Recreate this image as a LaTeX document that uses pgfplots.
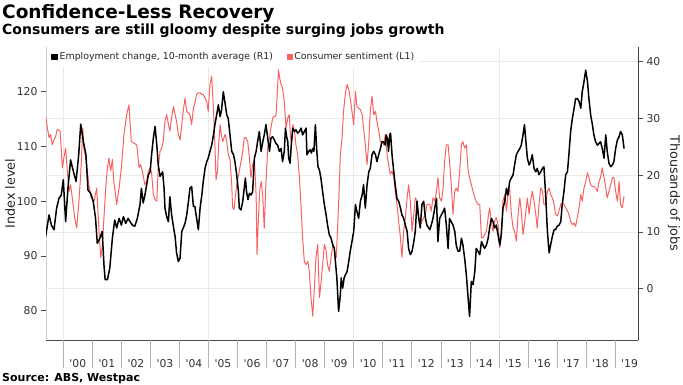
\documentclass[border=0pt]{standalone}
\usepackage{fontspec}
\setmainfont{DejaVu Sans}
\usepackage{pgfplots}
\usepackage{pgfplotstable}
\pgfplotsset{compat=1.18}
\definecolor{sent}{RGB}{248,98,98}
\definecolor{gridc}{RGB}{234,234,234}

\pgfplotstableread{
x y
1999.39 115.5
1999.45 113.4
1999.51 111.6
1999.56 112.2
1999.62 110.3
1999.68 111.2
1999.74 111.9
1999.79 113.1
1999.89 112.8
1999.97 106.1
2000.02 107.9
2000.08 109.7
2000.14 105.5
2000.20 101.8
2000.25 103.0
2000.31 100.6
2000.39 97.0
2000.46 95.1
2000.53 99.4
2000.60 104.9
2000.67 113.4
2000.71 109.7
2000.77 107.9
2000.83 105.5
2000.88 103.0
2000.96 100.6
2001.06 100.0
2001.15 102.4
2001.23 94.5
2001.29 89.7
2001.34 91.5
2001.40 97.0
2001.46 102.4
2001.52 106.1
2001.57 107.9
2001.63 105.5
2001.69 107.6
2001.74 103.6
2001.84 99.4
2001.92 102.4
2002.00 106.1
2002.09 112.2
2002.18 115.8
2002.26 117.6
2002.34 110.9
2002.43 110.6
2002.53 110.3
2002.61 106.1
2002.66 106.7
2002.72 105.5
2002.81 103.0
2002.87 103.6
2002.93 105.5
2002.99 106.1
2003.04 105.2
2003.10 101.2
2003.16 100.3
2003.22 100.0
2003.27 106.1
2003.33 109.1
2003.39 109.7
2003.44 110.9
2003.50 114.6
2003.56 115.8
2003.62 114.0
2003.67 112.8
2003.73 115.2
2003.79 117.3
2003.85 115.8
2003.90 114.6
2003.96 112.2
2004.02 111.2
2004.08 114.0
2004.13 116.4
2004.19 118.8
2004.25 116.4
2004.31 116.1
2004.36 115.8
2004.42 114.0
2004.48 117.0
2004.53 117.9
2004.59 119.5
2004.65 119.8
2004.71 119.8
2004.77 119.5
2004.82 119.5
2004.88 118.8
2004.94 118.2
2004.99 116.4
2005.05 121.3
2005.11 122.8
2005.17 117.0
2005.22 110.3
2005.26 103.9
2005.31 105.5
2005.35 110.3
2005.40 114.0
2005.44 112.2
2005.49 110.9
2005.57 112.2
2005.63 110.9
2005.68 108.5
2005.74 107.6
2005.80 103.0
2005.83 98.8
2005.88 98.5
2005.92 100.6
2005.97 103.0
2006.06 105.5
2006.12 107.3
2006.18 109.1
2006.23 111.6
2006.29 111.6
2006.35 110.9
2006.41 107.9
2006.46 104.3
2006.52 106.7
2006.58 107.6
2006.64 101.2
2006.67 90.3
2006.72 97.0
2006.77 102.4
2006.82 103.6
2006.87 100.6
2006.92 95.1
2006.98 103.6
2007.04 109.7
2007.10 111.6
2007.15 113.4
2007.21 115.2
2007.27 115.5
2007.32 115.5
2007.36 118.8
2007.41 124.0
2007.45 122.5
2007.50 121.3
2007.55 120.7
2007.61 118.2
2007.67 113.4
2007.73 115.2
2007.78 115.8
2007.82 112.2
2007.86 110.3
2007.91 114.0
2007.96 112.8
2008.01 110.3
2008.07 108.5
2008.13 104.3
2008.19 98.8
2008.24 93.3
2008.30 89.0
2008.36 88.4
2008.42 89.0
2008.47 87.2
2008.53 82.4
2008.59 79.0
2008.64 83.6
2008.70 89.7
2008.76 92.1
2008.82 82.4
2008.87 84.8
2008.93 88.4
2008.99 92.1
2009.05 90.9
2009.10 88.4
2009.16 87.2
2009.22 89.7
2009.28 92.1
2009.33 91.5
2009.40 89.7
2009.48 99.4
2009.54 108.5
2009.60 111.6
2009.65 116.4
2009.71 119.5
2009.77 121.3
2009.83 120.4
2009.88 118.8
2009.94 116.4
2010.00 114.0
2010.06 120.1
2010.11 117.3
2010.17 117.0
2010.23 116.7
2010.29 115.8
2010.34 113.4
2010.40 110.3
2010.46 106.7
2010.52 110.9
2010.57 116.4
2010.63 119.2
2010.69 115.8
2010.75 116.4
2010.80 114.6
2010.86 112.8
2010.92 110.9
2010.97 110.9
2011.03 110.3
2011.09 112.2
2011.15 108.5
2011.20 106.7
2011.26 104.9
2011.32 105.5
2011.38 104.3
2011.43 101.8
2011.49 99.4
2011.55 96.3
2011.61 93.3
2011.66 89.7
2011.72 94.5
2011.78 97.0
2011.84 100.6
2011.89 103.0
2011.95 100.0
2012.01 94.5
2012.07 97.6
2012.12 100.6
2012.18 100.0
2012.24 97.0
2012.29 95.7
2012.35 96.3
2012.41 97.0
2012.47 97.6
2012.52 99.4
2012.62 99.4
2012.67 98.2
2012.73 100.6
2012.79 100.0
2012.85 101.8
2012.90 104.3
2012.96 100.6
2013.02 100.0
2013.08 102.4
2013.13 107.3
2013.19 110.3
2013.25 110.3
2013.30 107.3
2013.36 103.0
2013.42 97.6
2013.48 101.8
2013.53 102.4
2013.59 101.8
2013.65 105.5
2013.71 110.3
2013.76 110.9
2013.82 109.7
2013.88 110.3
2013.94 105.5
2013.99 104.3
2014.05 103.0
2014.11 101.8
2014.17 100.6
2014.22 100.0
2014.28 99.4
2014.34 99.4
2014.40 93.3
2014.45 93.3
2014.51 93.9
2014.57 94.5
2014.63 97.0
2014.68 98.8
2014.74 96.3
2014.80 94.5
2014.85 96.3
2014.91 97.0
2014.97 95.7
2015.03 91.5
2015.08 93.3
2015.14 100.0
2015.20 101.2
2015.26 98.2
2015.31 101.2
2015.37 102.4
2015.43 97.6
2015.49 95.1
2015.54 94.5
2015.60 92.7
2015.66 97.6
2015.72 100.6
2015.77 98.2
2015.83 93.9
2015.89 96.3
2015.98 100.6
2016.04 97.6
2016.09 100.0
2016.15 101.8
2016.21 100.0
2016.27 97.6
2016.32 95.1
2016.38 99.4
2016.44 102.4
2016.50 101.8
2016.55 99.4
2016.61 99.4
2016.67 101.8
2016.73 102.4
2016.78 101.2
2016.84 100.6
2016.90 99.4
2016.95 97.6
2017.01 97.3
2017.07 98.2
2017.13 99.4
2017.18 99.7
2017.24 99.4
2017.30 98.8
2017.36 98.2
2017.41 97.6
2017.47 96.3
2017.53 95.7
2017.59 96.0
2017.64 95.4
2017.70 97.0
2017.76 98.8
2017.82 101.2
2017.87 100.0
2017.93 102.4
2017.99 103.6
2018.05 105.2
2018.10 104.3
2018.16 103.0
2018.22 102.7
2018.27 102.7
2018.33 102.4
2018.39 101.8
2018.45 103.6
2018.50 104.3
2018.56 106.1
2018.62 104.3
2018.68 102.4
2018.73 100.6
2018.79 101.8
2018.85 103.0
2018.91 104.3
2018.96 104.3
2019.02 101.8
2019.08 100.0
2019.14 103.6
2019.19 99.4
2019.25 98.8
2019.31 100.9
}\sentiment

\pgfplotstableread{
x y
1999.39 9.2
1999.51 13.0
1999.59 11.2
1999.68 10.4
1999.77 14.2
1999.85 15.9
1999.93 16.5
2000.00 19.2
2000.08 11.8
2000.16 17.7
2000.25 22.7
2000.35 20.6
2000.44 18.9
2000.53 23.6
2000.60 29.0
2000.69 25.9
2000.78 23.6
2000.85 17.4
2000.94 16.8
2001.03 15.4
2001.11 12.4
2001.17 8.0
2001.26 8.9
2001.34 10.1
2001.40 4.2
2001.44 1.6
2001.52 1.6
2001.60 3.6
2001.69 8.9
2001.77 12.1
2001.84 10.7
2001.92 12.4
2002.00 11.2
2002.07 12.7
2002.15 11.5
2002.23 12.4
2002.30 11.8
2002.38 11.2
2002.46 11.0
2002.55 12.4
2002.64 14.8
2002.69 17.7
2002.75 15.1
2002.81 16.5
2002.87 18.3
2002.93 20.1
2002.99 20.6
2003.04 23.6
2003.10 26.5
2003.16 28.6
2003.22 25.3
2003.27 21.8
2003.33 19.8
2003.39 20.3
2003.42 20.6
2003.47 17.7
2003.50 14.2
2003.56 12.7
2003.62 11.8
2003.67 16.2
2003.73 13.0
2003.79 11.0
2003.85 9.2
2003.90 6.3
2003.96 4.8
2004.02 5.4
2004.08 10.1
2004.13 10.7
2004.19 11.5
2004.25 13.0
2004.31 15.4
2004.36 17.7
2004.42 18.0
2004.48 14.5
2004.53 14.5
2004.59 12.4
2004.65 10.4
2004.71 14.2
2004.77 16.5
2004.82 18.9
2004.88 21.2
2004.94 22.4
2004.99 23.0
2005.05 24.2
2005.11 25.3
2005.17 27.1
2005.22 28.9
2005.28 30.6
2005.34 32.4
2005.40 30.3
2005.45 31.5
2005.51 34.7
2005.57 32.7
2005.63 30.6
2005.68 30.0
2005.74 27.1
2005.80 24.2
2005.86 23.6
2005.91 22.4
2005.97 20.1
2006.03 17.1
2006.06 14.2
2006.12 13.9
2006.18 15.4
2006.23 17.7
2006.27 19.5
2006.31 17.1
2006.36 15.7
2006.41 16.8
2006.46 16.5
2006.52 17.1
2006.58 23.0
2006.64 24.2
2006.69 25.9
2006.75 27.7
2006.81 24.2
2006.87 25.9
2006.92 27.1
2006.98 28.9
2007.04 26.5
2007.10 24.2
2007.15 26.5
2007.21 26.8
2007.27 26.2
2007.32 25.6
2007.38 25.3
2007.44 24.2
2007.50 24.7
2007.55 22.4
2007.61 24.2
2007.65 28.3
2007.69 26.8
2007.73 25.9
2007.76 23.0
2007.81 22.1
2007.85 25.3
2007.90 28.3
2007.96 27.7
2008.01 28.0
2008.07 27.4
2008.13 27.7
2008.19 28.3
2008.24 27.1
2008.30 27.7
2008.36 28.3
2008.39 23.6
2008.45 24.2
2008.50 24.5
2008.54 23.9
2008.59 24.7
2008.63 24.2
2008.68 28.9
2008.73 24.2
2008.77 21.5
2008.82 20.9
2008.87 19.5
2008.93 17.1
2008.99 14.8
2009.05 13.0
2009.10 11.2
2009.16 9.5
2009.22 8.9
2009.28 7.7
2009.33 7.1
2009.37 4.8
2009.42 1.9
2009.48 -4.0
2009.54 -1.1
2009.57 1.9
2009.62 0.1
2009.67 1.9
2009.71 2.4
2009.77 3.0
2009.83 4.8
2009.88 6.6
2009.94 8.3
2010.00 10.1
2010.06 14.8
2010.11 13.6
2010.17 12.4
2010.23 15.4
2010.29 16.5
2010.34 18.3
2010.40 14.2
2010.46 18.3
2010.52 20.6
2010.57 21.2
2010.63 23.6
2010.69 24.2
2010.75 23.6
2010.80 22.4
2010.86 23.6
2010.92 24.7
2010.97 25.9
2011.03 25.9
2011.09 25.3
2011.12 27.1
2011.16 26.5
2011.20 24.2
2011.24 27.1
2011.27 27.4
2011.32 23.6
2011.38 20.6
2011.43 18.3
2011.49 15.9
2011.55 15.4
2011.61 14.2
2011.66 13.0
2011.72 12.4
2011.78 11.2
2011.84 10.1
2011.89 7.1
2011.95 6.0
2012.01 6.6
2012.07 8.3
2012.12 10.1
2012.18 15.4
2012.24 12.4
2012.29 10.7
2012.35 14.8
2012.41 15.4
2012.47 12.4
2012.52 11.2
2012.62 10.4
2012.67 11.2
2012.73 12.4
2012.79 14.2
2012.85 15.9
2012.90 8.3
2012.96 12.4
2013.02 13.0
2013.08 13.6
2013.13 14.2
2013.19 11.2
2013.25 7.1
2013.30 12.4
2013.36 11.8
2013.42 11.2
2013.48 10.1
2013.53 7.7
2013.59 6.6
2013.65 6.6
2013.71 8.9
2013.76 7.7
2013.82 5.4
2013.88 2.4
2013.94 -1.7
2013.99 -4.9
2014.05 1.3
2014.11 0.7
2014.17 3.0
2014.22 7.1
2014.28 6.6
2014.34 6.0
2014.40 8.3
2014.45 7.7
2014.51 7.1
2014.57 7.7
2014.63 8.9
2014.68 10.7
2014.74 12.4
2014.80 11.8
2014.85 10.7
2014.91 11.2
2014.97 9.5
2015.03 7.7
2015.08 9.5
2015.14 14.2
2015.20 15.4
2015.26 17.7
2015.31 16.5
2015.37 18.9
2015.43 19.5
2015.49 20.1
2015.54 21.8
2015.60 23.6
2015.66 24.2
2015.72 24.7
2015.77 25.3
2015.83 27.1
2015.88 28.9
2015.92 26.5
2015.98 23.0
2016.04 21.8
2016.09 22.4
2016.15 23.6
2016.21 21.2
2016.27 20.6
2016.32 21.2
2016.38 20.1
2016.44 20.6
2016.50 21.2
2016.55 21.5
2016.61 16.5
2016.67 10.1
2016.73 6.3
2016.78 7.7
2016.84 9.2
2016.90 10.4
2016.95 10.4
2017.01 11.0
2017.07 11.2
2017.13 11.8
2017.18 14.8
2017.24 17.1
2017.30 20.1
2017.36 20.6
2017.41 23.6
2017.47 27.7
2017.53 30.0
2017.59 31.8
2017.64 33.5
2017.70 33.5
2017.76 33.0
2017.82 31.8
2017.87 34.7
2017.93 36.5
2017.99 38.5
2018.05 36.5
2018.10 33.5
2018.16 30.6
2018.22 28.9
2018.27 27.1
2018.33 25.9
2018.39 25.3
2018.45 25.6
2018.50 25.9
2018.56 24.7
2018.62 23.0
2018.68 27.1
2018.73 24.2
2018.79 22.1
2018.85 21.5
2018.91 21.8
2018.96 22.4
2019.02 24.7
2019.08 26.2
2019.14 26.8
2019.19 27.7
2019.25 27.1
2019.31 24.7
}\employment

\begin{document}
\begin{tikzpicture}[x=1pt,y=1pt]
\path[use as bounding box] (0,0) rectangle (683,384);
\pgfplotsset{base/.style={
  scale only axis, width=592pt, height=293pt,
  at={(46pt,44pt)}, anchor=south west,
  xmin=1999.404, xmax=2019.79,
  /pgf/number format/assume math mode=true,
  ticklabel style={font=\fontsize{10.8}{12}\selectfont, text=black!80},
  tick align=outside, major tick length=5pt,
}}

% grid layer
\begin{axis}[base, ymin=-9.04, ymax=42.59,
  xtick={2000,2005,2010,2015}, ytick={0,10,20,30,40},
  xmajorgrids, ymajorgrids, grid style={gridc, line width=0.6pt},
  axis line style={draw=none}, major tick length=0pt,
  xticklabels={}, yticklabels={}]
\end{axis}

% left axis: consumer sentiment
\begin{axis}[base, ymin=74.65, ymax=128.16,
  axis x line*=bottom, axis y line*=left,
  x axis line style={black!70, line width=0.7pt},
  y axis line style={black!18, line width=0.7pt},
  ytick={80,90,100,110,120},
  ytick style={black!70, line width=0.6pt},
  xtick={2000.5,2001.5,...,2019.5},
  xticklabels={\textquotesingle 00,\textquotesingle 01,\textquotesingle 02,\textquotesingle 03,\textquotesingle 04,\textquotesingle 05,\textquotesingle 06,\textquotesingle 07,\textquotesingle 08,\textquotesingle 09,\textquotesingle 10,\textquotesingle 11,\textquotesingle 12,\textquotesingle 13,\textquotesingle 14,\textquotesingle 15,\textquotesingle 16,\textquotesingle 17,\textquotesingle 18,\textquotesingle 19},
  xtick style={draw=none},
  xticklabel style={yshift=-11pt},
  extra x ticks={2000,2001,...,2019},
  extra x tick labels={},
  extra x tick style={major tick length=28pt, xtick style={draw=black!30, line width=0.6pt}},
]
\addplot[sent, line width=1pt, line join=round] table[x=x,y=y] {\sentiment};
\end{axis}

% right axis: employment
\begin{axis}[base, ymin=-9.04, ymax=42.59,
  axis y line*=right, axis x line=none,
  y axis line style={black!75, line width=0.7pt},
  ytick={0,10,20,30,40},
  ytick style={black!70, line width=0.6pt},
  legend style={at={(0.002,1)}, anchor=north west, draw=none, fill=white,
    font=\fontsize{9.4}{11}\selectfont, text=black!85,
    inner xsep=4pt, inner ysep=3.5pt, legend columns=2,
    /tikz/every even column/.append style={column sep=12pt},
    nodes={inner xsep=1.6pt}},
  legend cell align=left,
  legend image code/.code={\fill[#1] (0pt,-2.6pt) rectangle (5.2pt,2.6pt);},
]
\addplot[black, line width=1.5pt, line join=round] table[x=x,y=y] {\employment};
\addlegendentry{Employment change, 10-month average (R1)}
\addlegendimage{sent, line width=1pt}
\addlegendentry{Consumer sentiment (L1)}
\end{axis}

\node[rotate=90, font=\fontsize{12.8}{14}\selectfont, text=black!85] at (10,190.5) {Index level};
\node[rotate=-90, font=\fontsize{12.8}{14}\selectfont, text=black!85] at (674,190.5) {Thousands of jobs};

\node[anchor=base west, inner sep=0, font=\bfseries\fontsize{18.5}{21}\selectfont] at (2,365.7) {Confidence-Less Recovery};
\node[anchor=base west, inner sep=0, font=\bfseries\fontsize{14}{16}\selectfont] at (2,349) {Consumers are still gloomy despite surging jobs growth};
\node[anchor=base west, inner sep=0, font=\bfseries\fontsize{11}{13}\selectfont] at (2,3) {Source: ABS, Westpac};
\end{tikzpicture}
\end{document}
